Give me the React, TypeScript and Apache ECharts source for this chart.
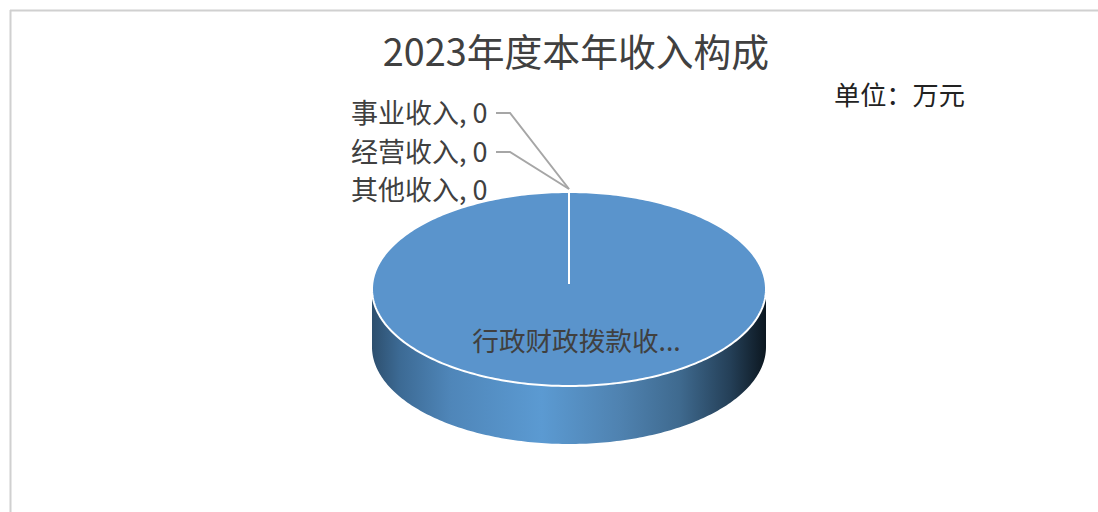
import React, { useEffect, useRef } from "react";
import * as echarts from "echarts";

const titleText = "2023年度本年收入构成";
const unitText = "单位：万元";
const categories = ["行政财政拨款收入", "事业收入", "经营收入", "其他收入"];
const values = [100, 0, 0, 0];

const W = 1098;
const H = 512;
const CX = 569;
const CY = 289;
const RX = 197;
const RY = 97;
const HUB_Y = 284;
const DEPTH = 58;
const FONT = '"Noto Sans CJK SC", "Noto Sans", sans-serif';
const TEXT = "#404040";
const labelLayout: Record<number, { x: number; y: number; line?: boolean }> = {
  1: { x: 351, y: 113, line: true },
  2: { x: 351, y: 152, line: true },
  3: { x: 351, y: 190 },
};

const total = values.reduce((a, b) => a + b, 0);

function rim(frac: number) {
  const a = frac * Math.PI * 2;
  return [CX + RX * Math.sin(a), CY - RY * Math.cos(a)];
}

function wallPoints() {
  const top: number[][] = [];
  const bottom: number[][] = [];
  for (let i = 0; i <= 180; i++) {
    const a = (i / 180) * Math.PI;
    const x = CX - RX * Math.cos(a);
    const y = CY + RY * Math.sin(a);
    top.push([x, y]);
    bottom.push([x, y + DEPTH]);
  }
  return top.concat(bottom.reverse());
}

function renderItem(params: any, api: any) {
  const i = params.dataIndex;
  const startShare = values.slice(0, i).reduce((a, b) => a + b, 0) / total;
  const share = api.value(0) / total;
  const children: any[] = [];

  if (i === 0) {
    children.push({
      type: "polygon",
      shape: { points: wallPoints() },
      style: {
        fill: new echarts.graphic.LinearGradient(CX - RX, 0, CX + RX, 0, [
          { offset: 0, color: "#2d4f6e" },
          { offset: 0.07, color: "#3c6a94" },
          { offset: 0.2, color: "#4f86b9" },
          { offset: 0.43, color: "#5b9ad2" },
          { offset: 0.63, color: "#4f82b0" },
          { offset: 0.78, color: "#3f6a8f" },
          { offset: 0.91, color: "#243f57" },
          { offset: 1, color: "#0c1720" },
        ], true),
      },
    });
  }

  const pts: number[][] = [[CX, HUB_Y]];
  const steps = Math.max(1, Math.round(share * 360));
  for (let s = 0; s <= steps; s++) pts.push(rim(startShare + (share * s) / steps));
  children.push({
    type: "polygon",
    shape: { points: pts },
    style: { fill: "#5a94cc", stroke: "#ffffff", lineWidth: 2 },
  });

  const layout = labelLayout[i];
  if (layout) {
    if (layout.line) {
      const [tx] = rim(startShare);
      children.push({
        type: "polyline",
        shape: { points: [[layout.x + 145, layout.y], [layout.x + 159, layout.y], [tx, CY - RY - 3]] },
        style: { fill: "none", stroke: "#a6a6a6", lineWidth: 2 },
      });
    }
    children.push({
      type: "text",
      style: {
        x: layout.x,
        y: layout.y - 2,
        text: `${categories[i]}, ${api.value(0)}`,
        fill: TEXT,
        font: `27px ${FONT}`,
        textAlign: "left",
        textVerticalAlign: "middle",
      },
    });
  } else {
    children.push({
      type: "text",
      style: {
        x: 576.5,
        y: 339,
        text: `${categories[i].slice(0, 7)}...`,
        fill: TEXT,
        font: `26.6px ${FONT}`,
        textAlign: "center",
        textVerticalAlign: "middle",
      },
    });
  }
  return { type: "group", children };
}

export default function App() {
  const ref = useRef<HTMLDivElement>(null);
  useEffect(() => {
    document.body.style.margin = "0";
    const chart = echarts.init(ref.current!, null, { renderer: "svg" });
    chart.setOption({
      animation: false,
      backgroundColor: "#ffffff",
      title: {
        text: titleText,
        left: 571,
        top: 26,
        textAlign: "center",
        textStyle: { fontFamily: FONT, fontSize: 37.8, fontWeight: 400, color: TEXT },
      },
      graphic: [
        { type: "line", silent: true, shape: { x1: 10, y1: 10.5, x2: W, y2: 10.5 }, style: { stroke: "#d0d0d0", lineWidth: 2 } },
        { type: "line", silent: true, shape: { x1: 10.5, y1: 10, x2: 10.5, y2: H }, style: { stroke: "#d0d0d0", lineWidth: 2 } },
        {
          type: "text",
          x: 834,
          y: 94,
          style: {
            text: unitText,
            fill: "#222222",
            font: `26.2px ${FONT}`,
            textAlign: "left",
            textVerticalAlign: "middle",
          },
        },
      ],
      series: [
        {
          type: "custom",
          coordinateSystem: "none",
          renderItem,
          data: values.map((v, i) => ({ name: categories[i], value: [v] })),
          silent: true,
        },
      ],
    });
    return () => chart.dispose();
  }, []);
  return <div ref={ref} style={{ width: W, height: H }} />;
}
